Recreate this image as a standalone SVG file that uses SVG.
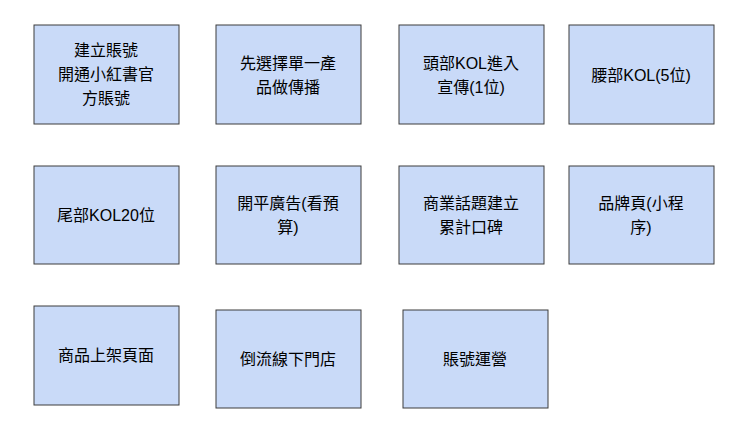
<svg xmlns="http://www.w3.org/2000/svg" width="740" height="425" viewBox="0 0 740 425">
<style>
rect{fill:#c9daf8;stroke:#3c3c3c;stroke-width:1}
text{font-family:"Liberation Sans","Noto Sans CJK TC",sans-serif;font-size:16px;fill:#000;text-anchor:middle}
</style>
<rect x="0" y="0" width="740" height="425" style="fill:#fff;stroke:none"/>
<g id="connectors"/>
<g id="n1"><rect x="34" y="25" width="145" height="99"/><text x="106" y="56">建立賬號</text><text x="106" y="80">開通小紅書官</text><text x="106" y="104">方賬號</text></g>
<g id="n2"><rect x="216" y="25" width="145" height="99"/><text x="288" y="69">先選擇單一產</text><text x="288" y="93">品做傳播</text></g>
<g id="n3"><rect x="399" y="25" width="145" height="99"/><text x="471" y="69">頭部KOL進入</text><text x="471" y="93">宣傳(1位)</text></g>
<g id="n4"><rect x="569" y="25" width="145" height="99"/><text x="641" y="81">腰部KOL(5位)</text></g>
<g id="n5"><rect x="34" y="166" width="145" height="98"/><text x="106" y="221">尾部KOL20位</text></g>
<g id="n6"><rect x="216" y="166" width="145" height="98"/><text x="288" y="209">開平廣告(看預</text><text x="288" y="233">算)</text></g>
<g id="n7"><rect x="399" y="166" width="145" height="98"/><text x="471" y="209">商業話題建立</text><text x="471" y="233">累計口碑</text></g>
<g id="n8"><rect x="569" y="166" width="145" height="98"/><text x="641" y="209">品牌頁(小程</text><text x="641" y="233">序)</text></g>
<g id="n9"><rect x="34" y="306" width="145" height="99"/><text x="106" y="361">商品上架頁面</text></g>
<g id="n10"><rect x="216" y="310" width="145" height="98"/><text x="288" y="365">倒流線下門店</text></g>
<g id="n11"><rect x="403" y="310" width="145" height="98"/><text x="475" y="365">賬號運營</text></g>
</svg>
